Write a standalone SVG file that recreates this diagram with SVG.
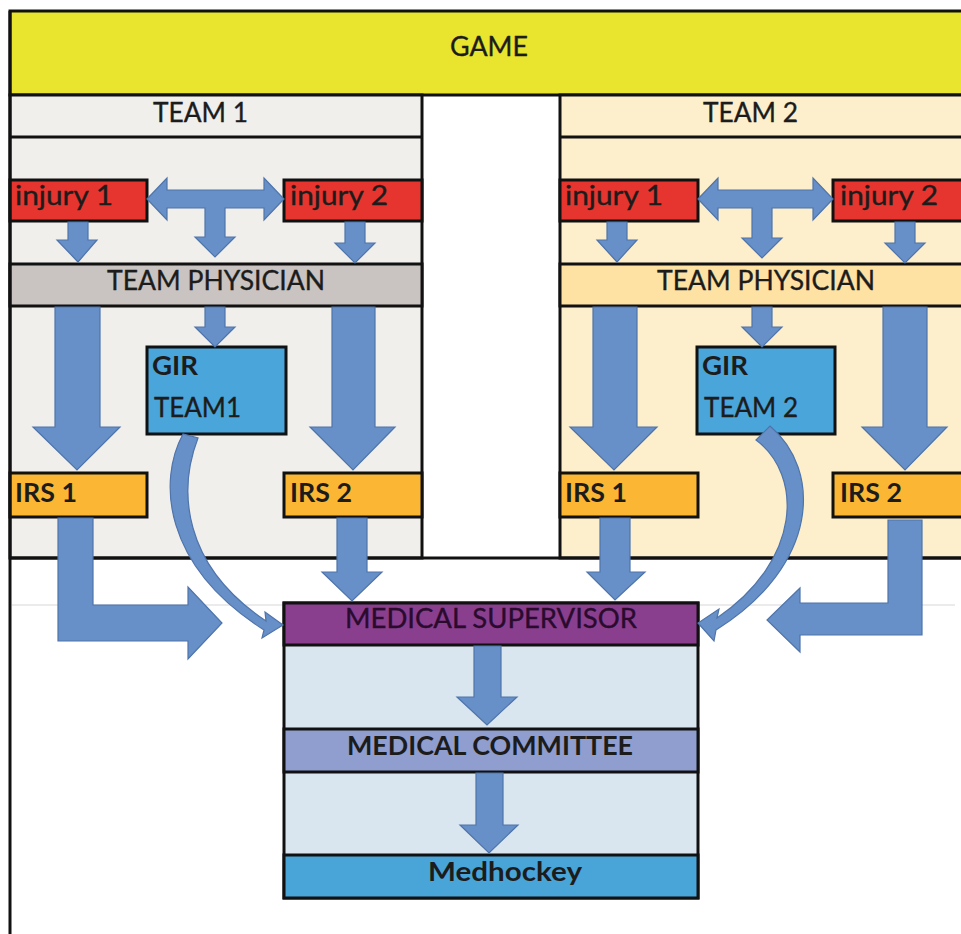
<svg xmlns="http://www.w3.org/2000/svg" width="961" height="934" viewBox="0 0 961 934">
<style>
text{font-family:Lato,"Open Sans","Liberation Sans",sans-serif;font-size:26px;fill:#1c1c1c;stroke:#1c1c1c;stroke-width:0.35}
.b{font-weight:bold;stroke-width:0}
.c{text-anchor:middle}
.ln{stroke:#111;stroke-width:3;fill:none}
.box{stroke:#111;stroke-width:3}
.arr{fill:#6790c8;stroke:#4f74aa;stroke-width:1.2;stroke-linejoin:miter}
.ms{fill:#2a0b2e;stroke:#2a0b2e}
</style>
<rect x="0" y="0" width="961" height="934" fill="#ffffff"/>
<line x1="12" y1="605" x2="955" y2="605" stroke="#e4e4e4" stroke-width="1.5"/>

<g id="game">
<rect x="10" y="11" width="960" height="84" fill="#e9e52f" class="box"/>
<text x="450" y="56" textLength="78" lengthAdjust="spacingAndGlyphs">GAME</text>
</g>

<g id="team1">
<rect x="10" y="95" width="412" height="463" fill="#f1efec" class="box"/>
<line x1="10" y1="137" x2="422" y2="137" class="ln"/>
<text x="153" y="122" textLength="95" lengthAdjust="spacingAndGlyphs">TEAM 1</text>
</g>
<g id="team2">
<rect x="560" y="95" width="410" height="463" fill="#fdefcb" class="box"/>
<line x1="560" y1="137" x2="961" y2="137" class="ln"/>
<text x="703" y="122" textLength="95" lengthAdjust="spacingAndGlyphs">TEAM 2</text>
</g>

<g id="t1-injury1"><rect x="10" y="180" width="137" height="41" fill="#e5352e" class="box"/><text x="15" y="205" textLength="98" lengthAdjust="spacingAndGlyphs">injury 1</text></g>
<g id="t1-injury2"><rect x="284" y="180" width="138" height="41" fill="#e5352e" class="box"/><text x="290" y="205" textLength="98" lengthAdjust="spacingAndGlyphs">injury 2</text></g>
<g id="t2-injury1"><rect x="560" y="180" width="138" height="41" fill="#e5352e" class="box"/><text x="565" y="205" textLength="98" lengthAdjust="spacingAndGlyphs">injury 1</text></g>
<g id="t2-injury2"><rect x="833" y="180" width="140" height="41" fill="#e5352e" class="box"/><text x="840" y="205" textLength="98" lengthAdjust="spacingAndGlyphs">injury 2</text></g>

<g id="t1-physician"><rect x="10" y="264" width="412" height="42" fill="#c9c4c1" class="box"/><text x="107" y="290" textLength="218" lengthAdjust="spacingAndGlyphs">TEAM PHYSICIAN</text></g>
<g id="t2-physician"><rect x="560" y="264" width="410" height="42" fill="#fde2a4" class="box"/><text x="657" y="290" textLength="218" lengthAdjust="spacingAndGlyphs">TEAM PHYSICIAN</text></g>

<g id="t1-gir"><rect x="147" y="347" width="139" height="87" fill="#4aa5da" class="box"/><text x="152" y="375" class="b" textLength="46" lengthAdjust="spacingAndGlyphs">GIR</text><text x="154" y="417" textLength="87" lengthAdjust="spacingAndGlyphs">TEAM1</text></g>
<g id="t2-gir"><rect x="697" y="347" width="138" height="87" fill="#4aa5da" class="box"/><text x="702" y="375" class="b" textLength="46" lengthAdjust="spacingAndGlyphs">GIR</text><text x="704" y="417" textLength="94" lengthAdjust="spacingAndGlyphs">TEAM 2</text></g>

<g id="t1-irs1"><rect x="10" y="473" width="137" height="44" fill="#fbb733" class="box"/><text x="15" y="502" class="b" textLength="62" lengthAdjust="spacingAndGlyphs">IRS 1</text></g>
<g id="t1-irs2"><rect x="284" y="473" width="138" height="44" fill="#fbb733" class="box"/><text x="290" y="502" class="b" textLength="62" lengthAdjust="spacingAndGlyphs">IRS 2</text></g>
<g id="t2-irs1"><rect x="560" y="473" width="138" height="44" fill="#fbb733" class="box"/><text x="565" y="502" class="b" textLength="62" lengthAdjust="spacingAndGlyphs">IRS 1</text></g>
<g id="t2-irs2"><rect x="833" y="473" width="140" height="44" fill="#fbb733" class="box"/><text x="840" y="502" class="b" textLength="62" lengthAdjust="spacingAndGlyphs">IRS 2</text></g>

<g id="frame">
<line x1="10" y1="11" x2="10" y2="934" class="ln"/>
<line x1="10" y1="558" x2="961" y2="558" class="ln"/>
</g>

<g id="medical">
<rect x="284" y="603" width="414" height="295" fill="#dae6ef" class="box"/>
<g id="supervisor"><rect x="284" y="603" width="414" height="42" fill="#893f8e" class="box"/><text x="345" y="628" class="ms" textLength="292" lengthAdjust="spacingAndGlyphs">MEDICAL SUPERVISOR</text></g>
<g id="committee"><rect x="284" y="729" width="414" height="43" fill="#8f9ecf" class="box"/><text x="347" y="755" class="b" textLength="286" lengthAdjust="spacingAndGlyphs">MEDICAL COMMITTEE</text></g>
<g id="medhockey"><rect x="284" y="855" width="414" height="43" fill="#49a4d8" class="box"/><text x="428" y="881" class="b" textLength="154" lengthAdjust="spacingAndGlyphs">Medhockey</text></g>
</g>

<g id="connectors">
<!-- team 1 -->
<polygon class="arr" points="68,222 88,222 88,240 97,240 78,262 57,240 68,240"/>
<polygon class="arr" points="147,199 167,178 167,190 264,190 264,178 284,199 264,220 264,208 225,208 225,237 235,237 215,257 195,237 205,237 205,208 167,208 167,220"/>
<polygon class="arr" points="345,222 365,222 365,243 375,243 355,263 335,243 345,243"/>
<polygon class="arr" points="55,307 100,307 100,427 120,427 77,470 33,427 55,427"/>
<polygon class="arr" points="332,307 375,307 375,427 395,427 353,470 310,427 332,427"/>
<polygon class="arr" points="205,307 225,307 225,327 235,327 215,347 195,327 205,327"/>
<polygon class="arr" points="337,518 367,518 367,572 382,572 352,601 322,572 337,572"/>
<polygon class="arr" points="58,518 93,518 93,605 188,605 188,587 222,623 188,659 188,641 58,641"/>
<path class="arr" d="M183,434 C158,480 162,565 264,630 L262,638 L283,625 L265,612 L266,621 C182,565 178,490 198,438 Z"/>
<!-- team 2 -->
<polygon class="arr" points="607,222 627,222 627,240 637,240 617,262 597,240 607,240"/>
<polygon class="arr" points="698,199 718,178 718,190 813,190 813,178 833,199 813,220 813,208 772,208 772,238 782,238 762,258 742,238 752,238 752,208 718,208 718,220"/>
<polygon class="arr" points="895,222 915,222 915,243 925,243 905,263 885,243 895,243"/>
<polygon class="arr" points="593,307 637,307 637,427 657,427 614,470 570,427 593,427"/>
<polygon class="arr" points="883,307 927,307 927,427 947,427 905,470 862,427 883,427"/>
<polygon class="arr" points="752,307 772,307 772,327 782,327 762,347 742,327 752,327"/>
<polygon class="arr" points="600,518 630,518 630,572 645,572 615,600 587,572 600,572"/>
<polygon class="arr" points="888,520 922,520 922,635 800,635 800,652 767,620 800,588 800,603 888,603"/>
<path class="arr" d="M770,426 C822,470 820,565 716,630 L714,641 L698,623 L719,609 L717,618 C802,560 803,475 756,440 Z"/>
<!-- medical -->
<polygon class="arr" points="474,646 501,646 501,697 517,697 487,725 457,697 474,697"/>
<polygon class="arr" points="476,773 503,773 503,825 518,825 489,853 460,825 476,825"/>
</g>
</svg>
